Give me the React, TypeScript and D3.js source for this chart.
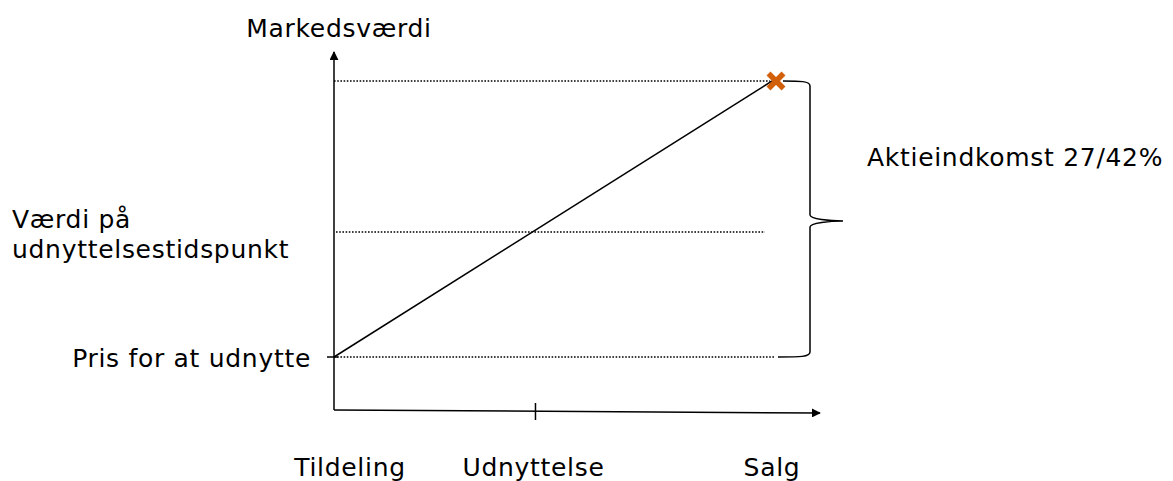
import React from 'react';
import * as d3 from 'd3';

// timeline (share of the period from grant to sale)
const timeLabels = ['Tildeling', 'Udnyttelse', 'Salg'];
const timeValues = [0, 0.46, 1];

// value levels (share of gain from strike price to sale)
const levelLabels = ['Pris for at udnytte', 'Værdi på udnyttelsestidspunkt', 'Markedsværdi ved salg'];
const levelValues = [0, 0.453, 1];

const yAxisTitle = 'Markedsværdi';
const braceLabel = 'Aktieindkomst 27/42%';

const W = 1173;
const H = 481;
const FONT = 'DejaVu Sans, Verdana, sans-serif';

const App = () => {
  const x = d3.scaleLinear().domain([0, 1]).range([334, 772]);
  const y = d3.scaleLinear().domain([0, 1]).range([357, 81]);

  const originX = 334;
  const axisY = 410;

  const valueLine = d3.line<number>()
    .x((d, i) => x(timeValues[i === 0 ? 0 : 2]))
    .y(d => y(d));

  // dotted guides: bottom, mid, top
  const guideEnds = [775, 765, 770];

  // brace on right from y(1) to y(0)
  const bx = 810;
  const yt = y(1);
  const yb = y(0);
  const ym = (yt + yb) / 2 + 2;
  const brace = `M ${bx - 27} ${yt} C ${bx - 10} ${yt}, ${bx} ${yt}, ${bx} ${yt + 5}
    L ${bx} ${ym - 6} C ${bx} ${ym - 2}, ${bx + 20} ${ym}, ${bx + 33} ${ym}
    C ${bx + 20} ${ym}, ${bx} ${ym + 2}, ${bx} ${ym + 6}
    L ${bx} ${yb - 5} C ${bx} ${yb}, ${bx - 10} ${yb}, ${bx - 32} ${yb}`;

  const labelX = [350, x(timeValues[1]) - 2, x(timeValues[2])];
  const mk = x(1) + 4;
  const mky = y(1);

  return (
    <svg width={W} height={H} style={{ position: 'absolute', left: 0, top: 0 }} fontFamily={FONT}>
      <defs>
        <marker id="arr" viewBox="0 0 10 10" refX="9" refY="5" markerWidth="9" markerHeight="9" markerUnits="userSpaceOnUse" orient="auto">
          <path d="M0,0 L10,5 L0,10 z" fill="#000" />
        </marker>
      </defs>
      <rect width={W} height={H} fill="#fff" />

      {/* dotted guide lines */}
      {levelValues.map((v, i) => (
        <line key={i} x1={i === 1 ? 336 : originX} x2={guideEnds[i]} y1={y(v)} y2={y(v)}
          stroke="#000" strokeWidth={1.4} strokeDasharray="1.6,1.6" />
      ))}

      {/* axes */}
      <line x1={originX} y1={axisY} x2={originX} y2={52} stroke="#000" strokeWidth={1.5} markerEnd="url(#arr)" />
      <line x1={originX} y1={axisY} x2={820} y2={413} stroke="#000" strokeWidth={1.5} markerEnd="url(#arr)" />
      <line x1={x(timeValues[1])} x2={x(timeValues[1])} y1={403} y2={420} stroke="#000" strokeWidth={1.5} />
      <line x1={327} x2={338} y1={y(0)} y2={y(0)} stroke="#000" strokeWidth={1.5} />

      {/* value path */}
      <path d={valueLine([levelValues[0], levelValues[2]]) || ''} fill="none" stroke="#000" strokeWidth={1.5} />

      {/* sale marker */}
      <g transform={`translate(${mk},${mky})`} stroke="#D2600A" strokeWidth={5.5}>
        <line x1={-7.5} y1={-7.5} x2={7.5} y2={7.5} />
        <line x1={-7.5} y1={7.5} x2={7.5} y2={-7.5} />
      </g>

      {/* brace */}
      <path d={brace} fill="none" stroke="#000" strokeWidth={1.5} />

      {/* labels */}
      <g fontSize={25} fill="#000" letterSpacing={0.7}>
        <text x={339} y={37} textAnchor="middle">{yAxisTitle}</text>
        <text x={12} y={228}>Værdi på</text>
        <text x={12} y={258}>udnyttelsestidspunkt</text>
        <text x={311} y={367} textAnchor="end">{levelLabels[0]}</text>
        <text x={867} y={166}>{braceLabel}</text>
        {timeLabels.map((t, i) => (
          <text key={t} x={labelX[i]} y={476} textAnchor="middle">{t}</text>
        ))}
      </g>
    </svg>
  );
};

export default App;
